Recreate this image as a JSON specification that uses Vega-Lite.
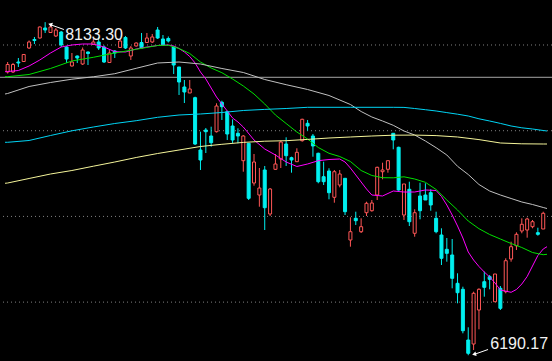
{
"$schema": "https://vega.github.io/schema/vega-lite/v6.json",
"width": 552, "height": 361, "autosize": "none", "padding": 0,
"background": "#000000",
"config": {"view": {"stroke": null}},
"datasets": {
"candles": [
{"i":0,"o":7842.5,"c":7886.2,"h":7900.8,"l":7833.7},
{"i":1,"o":7842.5,"c":7886.2,"h":7895.0,"l":7836.6},
{"i":2,"o":7900.8,"c":7895.0,"h":7924.2,"l":7871.7},
{"i":3,"o":7903.7,"c":7944.6,"h":7947.5,"l":7900.8},
{"i":4,"o":7982.5,"c":8017.5,"h":8026.3,"l":7976.7},
{"i":5,"o":8032.1,"c":8026.3,"h":8046.7,"l":8005.8},
{"i":6,"o":8040.8,"c":8105.0,"h":8107.9,"l":8037.9},
{"i":7,"o":8099.2,"c":8087.5,"h":8133.3,"l":8070.0},
{"i":8,"o":8072.9,"c":8105.0,"h":8116.7,"l":8070.0},
{"i":9,"o":8052.5,"c":8087.5,"h":8099.2,"l":8046.7},
{"i":10,"o":8075.8,"c":8000.0,"h":8081.7,"l":7988.3},
{"i":11,"o":7988.3,"c":7918.3,"h":7994.2,"l":7895.0},
{"i":12,"o":7877.5,"c":7900.8,"h":7953.3,"l":7874.6},
{"i":13,"o":7935.8,"c":7924.2,"h":7938.7,"l":7895.0},
{"i":14,"o":7889.2,"c":7970.8,"h":7985.4,"l":7883.3},
{"i":15,"o":7959.2,"c":7950.4,"h":7962.1,"l":7883.3},
{"i":16,"o":8002.9,"c":8017.5,"h":8035.0,"l":8000.0},
{"i":17,"o":8017.5,"c":7982.5,"h":8046.7,"l":7970.8},
{"i":18,"o":7988.3,"c":7900.8,"h":7997.1,"l":7895.0},
{"i":19,"o":7897.9,"c":7953.3,"h":7970.8,"l":7895.0},
{"i":20,"o":7965.0,"c":7953.3,"h":7970.8,"l":7924.2},
{"i":21,"o":7985.4,"c":8023.3,"h":8035.0,"l":7982.5},
{"i":22,"o":8043.8,"c":7982.5,"h":8052.5,"l":7976.7},
{"i":23,"o":7935.8,"c":7982.5,"h":7994.2,"l":7912.5},
{"i":24,"o":7994.2,"c":8011.7,"h":8014.6,"l":7991.3},
{"i":25,"o":8014.6,"c":7982.5,"h":8070.0,"l":7982.5},
{"i":26,"o":8014.6,"c":8040.8,"h":8070.0,"l":8011.7},
{"i":27,"o":8017.5,"c":8046.7,"h":8064.2,"l":8011.7},
{"i":28,"o":8087.5,"c":8040.8,"h":8105.0,"l":8035.0},
{"i":29,"o":8035.0,"c":8000.0,"h":8058.3,"l":8000.0},
{"i":30,"o":8037.9,"c":8023.3,"h":8049.6,"l":8014.6},
{"i":31,"o":7988.3,"c":7883.3,"h":7991.3,"l":7830.8},
{"i":32,"o":7871.7,"c":7784.1,"h":7871.7,"l":7708.3},
{"i":33,"o":7755.0,"c":7725.8,"h":7795.8,"l":7661.6},
{"i":34,"o":7720.0,"c":7743.3,"h":7795.8,"l":7720.0},
{"i":35,"o":7692.6,"c":7422.4,"h":7698.4,"l":7416.6},
{"i":36,"o":7387.4,"c":7329.1,"h":7494.2,"l":7270.8},
{"i":37,"o":7504.1,"c":7494.2,"h":7515.8,"l":7369.9},
{"i":38,"o":7469.1,"c":7430.0,"h":7523.4,"l":7406.7},
{"i":39,"o":7494.2,"c":7644.1,"h":7659.9,"l":7489.5},
{"i":40,"o":7665.7,"c":7640.0,"h":7675.0,"l":7562.5},
{"i":41,"o":7610.9,"c":7480.8,"h":7616.7,"l":7445.8},
{"i":42,"o":7527.5,"c":7445.8,"h":7566.5,"l":7428.3},
{"i":43,"o":7484.9,"c":7469.1,"h":7514.0,"l":7426.5},
{"i":44,"o":7325.0,"c":7469.1,"h":7474.9,"l":7260.8},
{"i":45,"o":7426.5,"c":7105.7,"h":7428.3,"l":7095.7},
{"i":46,"o":7194.9,"c":7317.4,"h":7364.1,"l":7179.2},
{"i":47,"o":7124.9,"c":7165.7,"h":7282.4,"l":7056.6},
{"i":48,"o":7270.8,"c":7050.8,"h":7294.1,"l":6920.7},
{"i":49,"o":7014.1,"c":7159.9,"h":7165.7,"l":7002.4},
{"i":50,"o":7274.8,"c":7305.8,"h":7364.1,"l":7270.8},
{"i":51,"o":7334.9,"c":7434.1,"h":7441.7,"l":7282.4},
{"i":52,"o":7422.4,"c":7354.2,"h":7461.5,"l":7294.1},
{"i":53,"o":7342.5,"c":7329.1,"h":7348.3,"l":7255.0},
{"i":54,"o":7319.2,"c":7374.0,"h":7397.4,"l":7317.4},
{"i":55,"o":7441.7,"c":7566.5,"h":7570.0,"l":7435.9},
{"i":56,"o":7543.2,"c":7527.5,"h":7562.5,"l":7500.0},
{"i":57,"o":7469.1,"c":7410.8,"h":7480.8,"l":7348.3},
{"i":58,"o":7368.2,"c":7202.5,"h":7371.7,"l":7193.2},
{"i":59,"o":7231.7,"c":7202.5,"h":7319.2,"l":7183.2},
{"i":60,"o":7264.9,"c":7138.3,"h":7280.7,"l":7099.8},
{"i":61,"o":7111.5,"c":7260.8,"h":7270.8,"l":7080.0},
{"i":62,"o":7183.2,"c":7247.4,"h":7270.8,"l":7169.8},
{"i":63,"o":7222.3,"c":7027.5,"h":7222.3,"l":7008.2},
{"i":64,"o":6862.4,"c":6910.8,"h":6994.8,"l":6823.3},
{"i":65,"o":6989.0,"c":6975.0,"h":7027.5,"l":6949.9},
{"i":66,"o":6910.8,"c":6940.0,"h":6989.0,"l":6903.2},
{"i":67,"o":7021.6,"c":7076.5,"h":7085.8,"l":7002.4},
{"i":68,"o":7033.3,"c":7078.2,"h":7095.7,"l":7027.5},
{"i":69,"o":7124.9,"c":7286.5,"h":7290.0,"l":7095.7},
{"i":70,"o":7260.8,"c":7270.8,"h":7313.3,"l":7216.5},
{"i":71,"o":7274.8,"c":7325.0,"h":7325.0,"l":7255.0},
{"i":72,"o":7484.9,"c":7445.8,"h":7484.9,"l":7391.5},
{"i":73,"o":7403.2,"c":7154.1,"h":7406.7,"l":7150.0},
{"i":74,"o":7008.2,"c":7189.1,"h":7189.1,"l":6979.1},
{"i":75,"o":7158.2,"c":6969.1,"h":7202.5,"l":6944.0},
{"i":76,"o":6901.5,"c":7021.6,"h":7041.5,"l":6881.6},
{"i":77,"o":7119.1,"c":7033.3,"h":7196.7,"l":6983.1},
{"i":78,"o":7124.9,"c":7095.7,"h":7193.2,"l":7095.7},
{"i":79,"o":7138.3,"c":7066.6,"h":7158.2,"l":7033.3},
{"i":80,"o":6989.0,"c":6910.8,"h":7027.5,"l":6901.5},
{"i":81,"o":6891.5,"c":6755.6,"h":6930.6,"l":6716.5},
{"i":82,"o":6808.1,"c":6784.8,"h":6874.0,"l":6735.8},
{"i":83,"o":6774.9,"c":6638.9,"h":6868.2,"l":6580.6},
{"i":84,"o":6609.8,"c":6554.9,"h":6668.1,"l":6493.1},
{"i":85,"o":6574.8,"c":6333.2,"h":6589.9,"l":6318.1},
{"i":86,"o":6279.0,"c":6201.4,"h":6353.1,"l":6190.17},
{"i":87,"o":6255.6,"c":6551.4,"h":6560.8,"l":6220.6},
{"i":88,"o":6454.0,"c":6574.8,"h":6580.6,"l":6341.4},
{"i":89,"o":6619.1,"c":6586.4,"h":6677.4,"l":6531.6},
{"i":90,"o":6648.3,"c":6633.1,"h":6658.2,"l":6574.8},
{"i":91,"o":6502.4,"c":6664.0,"h":6664.0,"l":6502.4},
{"i":92,"o":6580.6,"c":6463.9,"h":6594.0,"l":6454.0},
{"i":93,"o":6560.8,"c":6741.6,"h":6755.6,"l":6551.4},
{"i":94,"o":6751.5,"c":6823.3,"h":6852.5,"l":6735.8},
{"i":95,"o":6829.1,"c":6895.6,"h":6907.3,"l":6804.0},
{"i":96,"o":6914.9,"c":6954.0,"h":6989.0,"l":6901.5},
{"i":97,"o":6920.7,"c":6984.9,"h":6992.5,"l":6875.8},
{"i":98,"o":6940.0,"c":6969.1,"h":6979.1,"l":6930.6},
{"i":99,"o":6905.0,"c":6895.6,"h":6934.1,"l":6887.5},
{"i":100,"o":6926.5,"c":7018.1,"h":7027.5,"l":6926.5}
],
"ma": [
{"m":"MA5","i":-0.495,"v":7844.2},{"m":"MA5","i":0,"v":7845.4},{"m":"MA5","i":2,"v":7851.2},{"m":"MA5","i":4,"v":7877.5},{"m":"MA5","i":6,"v":7912.5},{"m":"MA5","i":8,"v":7953.3},{"m":"MA5","i":10,"v":7988.3},{"m":"MA5","i":12,"v":8000.0},{"m":"MA5","i":14,"v":8005.8},{"m":"MA5","i":16,"v":8005.8},{"m":"MA5","i":18,"v":7988.3},{"m":"MA5","i":20,"v":7960.9},{"m":"MA5","i":22,"v":7959.2},{"m":"MA5","i":24,"v":7976.7},{"m":"MA5","i":26,"v":7988.3},{"m":"MA5","i":28,"v":7997.1},{"m":"MA5","i":30,"v":8000.0},{"m":"MA5","i":31,"v":7994.2},{"m":"MA5","i":32,"v":7979.6},{"m":"MA5","i":33,"v":7959.2},{"m":"MA5","i":34,"v":7932.9},{"m":"MA5","i":35,"v":7895.0},{"m":"MA5","i":36,"v":7842.5},{"m":"MA5","i":37,"v":7801.6},{"m":"MA5","i":38,"v":7749.1},{"m":"MA5","i":39,"v":7696.6},{"m":"MA5","i":40,"v":7655.8},{"m":"MA5","i":41,"v":7615.0},{"m":"MA5","i":42,"v":7574.1},{"m":"MA5","i":43,"v":7550.8},{"m":"MA5","i":44,"v":7521.6},{"m":"MA5","i":46,"v":7445.8},{"m":"MA5","i":48,"v":7393.3},{"m":"MA5","i":50,"v":7358.3},{"m":"MA5","i":52,"v":7317.4},{"m":"MA5","i":54,"v":7291.2},{"m":"MA5","i":56,"v":7305.8},{"m":"MA5","i":58,"v":7325.0},{"m":"MA5","i":60,"v":7332.0},{"m":"MA5","i":62,"v":7334.9},{"m":"MA5","i":63,"v":7317.4},{"m":"MA5","i":64,"v":7282.4},{"m":"MA5","i":65,"v":7241.6},{"m":"MA5","i":66,"v":7200.7},{"m":"MA5","i":67,"v":7159.9},{"m":"MA5","i":68,"v":7124.9},{"m":"MA5","i":70,"v":7119.1},{"m":"MA5","i":72,"v":7148.2},{"m":"MA5","i":74,"v":7142.4},{"m":"MA5","i":76,"v":7142.4},{"m":"MA5","i":78,"v":7154.1},{"m":"MA5","i":80,"v":7151.2},{"m":"MA5","i":81,"v":7116.2},{"m":"MA5","i":82,"v":7066.6},{"m":"MA5","i":83,"v":7008.2},{"m":"MA5","i":84,"v":6944.0},{"m":"MA5","i":85,"v":6874.0},{"m":"MA5","i":86,"v":6792.4},{"m":"MA5","i":87,"v":6745.7},{"m":"MA5","i":88,"v":6707.8},{"m":"MA5","i":89,"v":6675.7},{"m":"MA5","i":90,"v":6646.5},{"m":"MA5","i":91,"v":6611.5},{"m":"MA5","i":92,"v":6570.7},{"m":"MA5","i":94,"v":6557.3},{"m":"MA5","i":95,"v":6573.6},{"m":"MA5","i":96,"v":6605.7},{"m":"MA5","i":97,"v":6649.4},{"m":"MA5","i":98,"v":6710.7},{"m":"MA5","i":99,"v":6771.9},{"m":"MA5","i":100,"v":6809.9},{"m":"MA5","i":100.705,"v":6823.3},
{"m":"MA10","i":-0.495,"v":7815.1},{"m":"MA10","i":0,"v":7815.1},{"m":"MA10","i":4,"v":7827.9},{"m":"MA10","i":8,"v":7862.9},{"m":"MA10","i":12,"v":7906.7},{"m":"MA10","i":16,"v":7928.2},{"m":"MA10","i":20,"v":7953.3},{"m":"MA10","i":24,"v":7974.9},{"m":"MA10","i":28,"v":7997.1},{"m":"MA10","i":30,"v":7998.8},{"m":"MA10","i":32,"v":7979.6},{"m":"MA10","i":34,"v":7950.4},{"m":"MA10","i":36,"v":7900.8},{"m":"MA10","i":38,"v":7865.8},{"m":"MA10","i":40,"v":7838.4},{"m":"MA10","i":42,"v":7801.6},{"m":"MA10","i":44,"v":7760.8},{"m":"MA10","i":46,"v":7714.1},{"m":"MA10","i":48,"v":7655.8},{"m":"MA10","i":50,"v":7591.6},{"m":"MA10","i":52,"v":7542.0},{"m":"MA10","i":54,"v":7492.4},{"m":"MA10","i":56,"v":7451.6},{"m":"MA10","i":58,"v":7402.0},{"m":"MA10","i":60,"v":7368.2},{"m":"MA10","i":62,"v":7349.5},{"m":"MA10","i":64,"v":7320.3},{"m":"MA10","i":66,"v":7267.8},{"m":"MA10","i":68,"v":7238.7},{"m":"MA10","i":70,"v":7225.8},{"m":"MA10","i":72,"v":7225.2},{"m":"MA10","i":74,"v":7231.1},{"m":"MA10","i":76,"v":7218.2},{"m":"MA10","i":78,"v":7199.0},{"m":"MA10","i":80,"v":7157.0},{"m":"MA10","i":82,"v":7095.7},{"m":"MA10","i":84,"v":7037.4},{"m":"MA10","i":86,"v":6973.2},{"m":"MA10","i":88,"v":6928.3},{"m":"MA10","i":90,"v":6894.5},{"m":"MA10","i":92,"v":6868.2},{"m":"MA10","i":94,"v":6842.0},{"m":"MA10","i":96,"v":6818.6},{"m":"MA10","i":98,"v":6789.4},{"m":"MA10","i":100,"v":6776.6},{"m":"MA10","i":100.705,"v":6778.9},
{"m":"MA20","i":-0.495,"v":7714.1},{"m":"MA20","i":0,"v":7717.1},{"m":"MA20","i":4,"v":7757.9},{"m":"MA20","i":8,"v":7781.2},{"m":"MA20","i":12,"v":7800.5},{"m":"MA20","i":16,"v":7814.5},{"m":"MA20","i":20,"v":7832.6},{"m":"MA20","i":24,"v":7864.1},{"m":"MA20","i":28,"v":7895.0},{"m":"MA20","i":32,"v":7900.8},{"m":"MA20","i":36,"v":7889.2},{"m":"MA20","i":40,"v":7862.9},{"m":"MA20","i":44,"v":7839.6},{"m":"MA20","i":48,"v":7798.7},{"m":"MA20","i":52,"v":7768.4},{"m":"MA20","i":56,"v":7740.4},{"m":"MA20","i":60,"v":7705.4},{"m":"MA20","i":64,"v":7652.9},{"m":"MA20","i":66,"v":7612.0},{"m":"MA20","i":68,"v":7580.0},{"m":"MA20","i":70,"v":7556.6},{"m":"MA20","i":72,"v":7531.5},{"m":"MA20","i":74,"v":7498.3},{"m":"MA20","i":76,"v":7474.9},{"m":"MA20","i":78,"v":7439.9},{"m":"MA20","i":80,"v":7400.9},{"m":"MA20","i":82,"v":7358.3},{"m":"MA20","i":84,"v":7292.3},{"m":"MA20","i":86,"v":7244.5},{"m":"MA20","i":88,"v":7186.2},{"m":"MA20","i":90,"v":7148.2},{"m":"MA20","i":92,"v":7124.9},{"m":"MA20","i":94,"v":7104.5},{"m":"MA20","i":96,"v":7084.1},{"m":"MA20","i":98,"v":7069.5},{"m":"MA20","i":100,"v":7052.0},{"m":"MA20","i":100.705,"v":7046.1},
{"m":"MA60","i":-0.495,"v":7432.4},{"m":"MA60","i":0,"v":7432.4},{"m":"MA60","i":4,"v":7442.9},{"m":"MA60","i":8,"v":7472.0},{"m":"MA60","i":12,"v":7499.4},{"m":"MA60","i":16,"v":7521.6},{"m":"MA60","i":20,"v":7542.0},{"m":"MA60","i":24,"v":7558.4},{"m":"MA60","i":28,"v":7578.2},{"m":"MA60","i":32,"v":7591.6},{"m":"MA60","i":36,"v":7597.5},{"m":"MA60","i":40,"v":7606.2},{"m":"MA60","i":44,"v":7617.9},{"m":"MA60","i":48,"v":7624.3},{"m":"MA60","i":52,"v":7629.5},{"m":"MA60","i":56,"v":7636.5},{"m":"MA60","i":64,"v":7636.5},{"m":"MA60","i":72,"v":7636.5},{"m":"MA60","i":74,"v":7636.0},{"m":"MA60","i":76,"v":7629.5},{"m":"MA60","i":78,"v":7622.5},{"m":"MA60","i":80,"v":7615.0},{"m":"MA60","i":82,"v":7605.6},{"m":"MA60","i":84,"v":7596.3},{"m":"MA60","i":86,"v":7585.8},{"m":"MA60","i":88,"v":7569.5},{"m":"MA60","i":90,"v":7556.6},{"m":"MA60","i":92,"v":7542.6},{"m":"MA60","i":94,"v":7527.5},{"m":"MA60","i":96,"v":7516.9},{"m":"MA60","i":98,"v":7509.9},{"m":"MA60","i":100,"v":7501.2},{"m":"MA60","i":100.705,"v":7498.3},
{"m":"MA120","i":-0.495,"v":7193.2},{"m":"MA120","i":0,"v":7194.9},{"m":"MA120","i":4,"v":7221.2},{"m":"MA120","i":8,"v":7247.4},{"m":"MA120","i":12,"v":7267.8},{"m":"MA120","i":16,"v":7292.9},{"m":"MA120","i":20,"v":7317.4},{"m":"MA120","i":24,"v":7343.7},{"m":"MA120","i":28,"v":7367.0},{"m":"MA120","i":32,"v":7387.4},{"m":"MA120","i":36,"v":7407.9},{"m":"MA120","i":40,"v":7420.7},{"m":"MA120","i":44,"v":7431.8},{"m":"MA120","i":48,"v":7438.8},{"m":"MA120","i":52,"v":7441.7},{"m":"MA120","i":56,"v":7449.3},{"m":"MA120","i":60,"v":7457.4},{"m":"MA120","i":64,"v":7463.3},{"m":"MA120","i":68,"v":7469.1},{"m":"MA120","i":72,"v":7473.8},{"m":"MA120","i":76,"v":7474.4},{"m":"MA120","i":80,"v":7471.4},{"m":"MA120","i":84,"v":7463.3},{"m":"MA120","i":88,"v":7448.1},{"m":"MA120","i":92,"v":7428.3},{"m":"MA120","i":96,"v":7423.6},{"m":"MA120","i":100,"v":7422.4},{"m":"MA120","i":100.705,"v":7422.4}
]
},
"layer": [
{"data": {"values": [{"p":8000},{"p":7500},{"p":7000},{"p":6500}]},
 "mark": {"type":"rule","strokeDash":[1,3],"color":"#808080","strokeWidth":1},
 "encoding": {"y": {"field":"p","type":"quantitative","scale":{"domain":[6156.5,8262.5],"nice":false,"zero":false},"axis":null}}},
{"data": {"values": [{"p":7811.6}]},
 "mark": {"type":"rule","color":"#a6a6a6","strokeWidth":1},
 "encoding": {"y": {"field":"p","type":"quantitative","scale":{"domain":[6156.5,8262.5],"nice":false,"zero":false},"axis":null}}},
{"data": {"name":"candles"},
 "mark": {"type":"rule","strokeWidth":1},
 "encoding": {
  "x": {"field":"i","type":"quantitative","scale":{"domain":[-0.495,100.705],"nice":false,"zero":false},"axis":null},
  "y": {"field":"l","type":"quantitative","scale":{"domain":[6156.5,8262.5],"nice":false,"zero":false},"axis":null},
  "y2": {"field":"h"},
  "color": {"condition":{"test":"datum.c >= datum.o","value":"#ff5656"},"value":"#00f0f0"}}},
{"data": {"name":"candles"},
 "mark": {"type":"bar","width":3,"strokeWidth":1},
 "encoding": {
  "x": {"field":"i","type":"quantitative","scale":{"domain":[-0.495,100.705],"nice":false,"zero":false},"axis":null},
  "y": {"field":"o","type":"quantitative","scale":{"domain":[6156.5,8262.5],"nice":false,"zero":false},"axis":null},
  "y2": {"field":"c"},
  "fill": {"condition":{"test":"datum.c >= datum.o","value":"#000000"},"value":"#00f0f0"},
  "stroke": {"condition":{"test":"datum.c >= datum.o","value":"#ff5656"},"value":"#00f0f0"}}},
{"data": {"name":"ma"},
 "mark": {"type":"line","strokeWidth":1},
 "encoding": {
  "x": {"field":"i","type":"quantitative","scale":{"domain":[-0.495,100.705],"nice":false,"zero":false},"axis":null},
  "y": {"field":"v","type":"quantitative","scale":{"domain":[6156.5,8262.5],"nice":false,"zero":false},"axis":null},
  "color": {"field":"m","type":"nominal","scale":{"domain":["MA5","MA10","MA20","MA60","MA120"],"range":["#ff00ff","#00e000","#c0c0c0","#00d4f4","#f5f59a"]},"legend":null}}},
{"data": {"values": [{"i":7.9,"p":8119.5,"i2":10.5,"p2":8090.4},{"i":87.3,"p":6197.0,"i2":89.7,"p2":6223.5}]},
 "mark": {"type":"rule","color":"#ffffff","strokeWidth":1},
 "encoding": {
  "x": {"field":"i","type":"quantitative","scale":{"domain":[-0.495,100.705],"nice":false,"zero":false},"axis":null},
  "y": {"field":"p","type":"quantitative","scale":{"domain":[6156.5,8262.5],"nice":false,"zero":false},"axis":null},
  "x2": {"field":"i2"}, "y2": {"field":"p2"}}},
{"data": {"values": [{"i":7.95,"p":8120.5,"a":20},{"i":87.1,"p":6195.5,"a":-16}]},
 "mark": {"type":"point","shape":"triangle-left","filled":true,"color":"#ffffff","size":22,"opacity":1},
 "encoding": {
  "x": {"field":"i","type":"quantitative","scale":{"domain":[-0.495,100.705],"nice":false,"zero":false},"axis":null},
  "y": {"field":"p","type":"quantitative","scale":{"domain":[6156.5,8262.5],"nice":false,"zero":false},"axis":null},
  "angle": {"field":"a","type":"quantitative","scale":null}}},
{"data": {"values": [{"i":7,"p":8133.3,"t":"8133.30"}]},
 "mark": {"type":"text","align":"left","baseline":"alphabetic","dx":20,"dy":18,"font":"Liberation Sans","fontSize":16,"color":"#f2f2f2"},
 "encoding": {
  "x": {"field":"i","type":"quantitative","scale":{"domain":[-0.495,100.705],"nice":false,"zero":false},"axis":null},
  "y": {"field":"p","type":"quantitative","scale":{"domain":[6156.5,8262.5],"nice":false,"zero":false},"axis":null},
  "text": {"field":"t"}}},
{"data": {"values": [{"i":86,"p":6190.17,"t":"6190.17"}]},
 "mark": {"type":"text","align":"left","baseline":"alphabetic","dx":22,"dy":-6,"font":"Liberation Sans","fontSize":16,"color":"#f2f2f2"},
 "encoding": {
  "x": {"field":"i","type":"quantitative","scale":{"domain":[-0.495,100.705],"nice":false,"zero":false},"axis":null},
  "y": {"field":"p","type":"quantitative","scale":{"domain":[6156.5,8262.5],"nice":false,"zero":false},"axis":null},
  "text": {"field":"t"}}}
]
}
